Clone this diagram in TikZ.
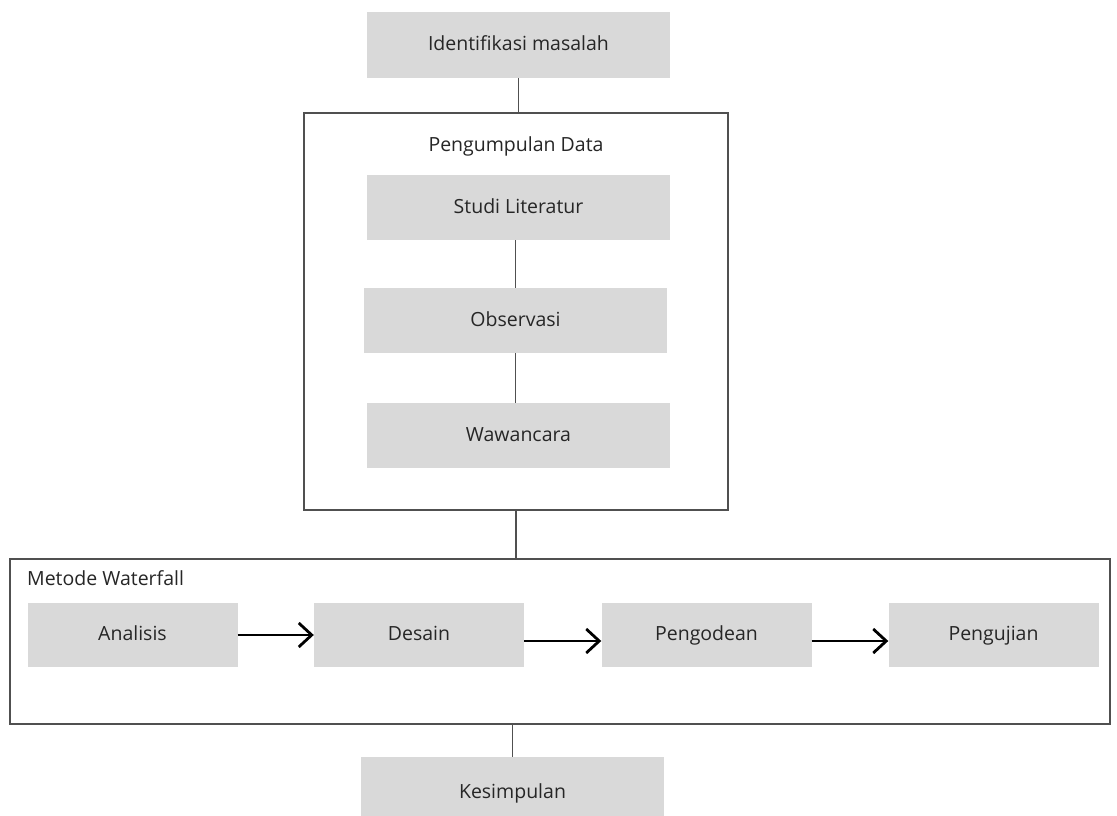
\documentclass[tikz,border=0pt]{standalone}
\usepackage{fontspec}
\setmainfont{Open Sans}
\usetikzlibrary{arrows.meta}
\definecolor{boxgray}{HTML}{D9D9D9}
\definecolor{txt}{HTML}{262626}
\definecolor{edge}{HTML}{505050}
\begin{document}
\begin{tikzpicture}[x=1pt,y=-1pt,
  graybox/.style={fill=boxgray,draw=none,inner sep=0pt,text=txt,font=\fontsize{19.5}{22}\selectfont,text height=14pt,text depth=3pt},
  frame/.style={draw=edge,line width=1.8pt,fill=none},
  link/.style={draw=edge,line width=1.6pt},
  flow/.style={draw=black,line width=2.6pt,-{Straight Barb[length=13pt,width=24pt,line width=2.8pt]}},
  lbl/.style={text=txt,font=\fontsize{19.5}{22}\selectfont,inner sep=0pt,text height=14pt,text depth=3pt}]
\useasboundingbox (0,0) rectangle (1117,816);
\fill[white] (0,0) rectangle (1117,816);
\clip (0,0) rectangle (1117,816);
% top
\node[graybox,minimum width=303pt,minimum height=66pt] (idm) at (518.5,45) {Identifikasi masalah};
% Pengumpulan Data frame
\node[frame,minimum width=424pt,minimum height=397pt,inner sep=0pt,text height=,text depth=] (pd) at (516,311.5) {};
\node[lbl] (pdl) at (516,146) {Pengumpulan Data};
\node[graybox,minimum width=303pt,minimum height=65pt] (studi) at (518.5,207.5) {Studi Literatur};
\node[graybox,minimum width=303pt,minimum height=65pt] (obs) at (515.5,320.5) {Observasi};
\node[graybox,minimum width=303pt,minimum height=65pt] (waw) at (518.5,435.5) {Wawancara};
% Metode Waterfall frame
\node[frame,minimum width=1100pt,minimum height=165pt,inner sep=0pt] (mw) at (560,641.5) {};
\node[lbl,anchor=west] (mwl) at (27,580) {Metode Waterfall};
\node[graybox,minimum width=210pt,minimum height=64pt] (ana) at (132.5,635) {Analisis};
\node[graybox,minimum width=210pt,minimum height=64pt] (des) at (419,635) {Desain};
\node[graybox,minimum width=210pt,minimum height=64pt] (kod) at (706.5,635) {Pengodean};
\node[graybox,minimum width=210pt,minimum height=64pt] (uji) at (993.5,635) {Pengujian};
% bottom
\node[graybox,minimum width=303pt,minimum height=72pt] (kes) at (512.5,793) {Kesimpulan};
% connectors
\draw[link] (idm.south) -- (idm.south |- pd.north);
\draw[link] (studi.south -| 515.5,0) -- (obs.north);
\draw[link] (obs.south) -- (obs.south |- waw.north);
\draw[link] (pd.south) -- (pd.south |- mw.north);
\draw[link] (kes.north |- mw.south) -- (kes.north);
\draw[flow] (ana.east) -- (des.west);
\draw[flow] ([yshift=-6pt]des.east) -- ([yshift=-6pt]kod.west);
\draw[flow] ([yshift=-6pt]kod.east) -- ([yshift=-6pt]uji.west);
\end{tikzpicture}
\end{document}
